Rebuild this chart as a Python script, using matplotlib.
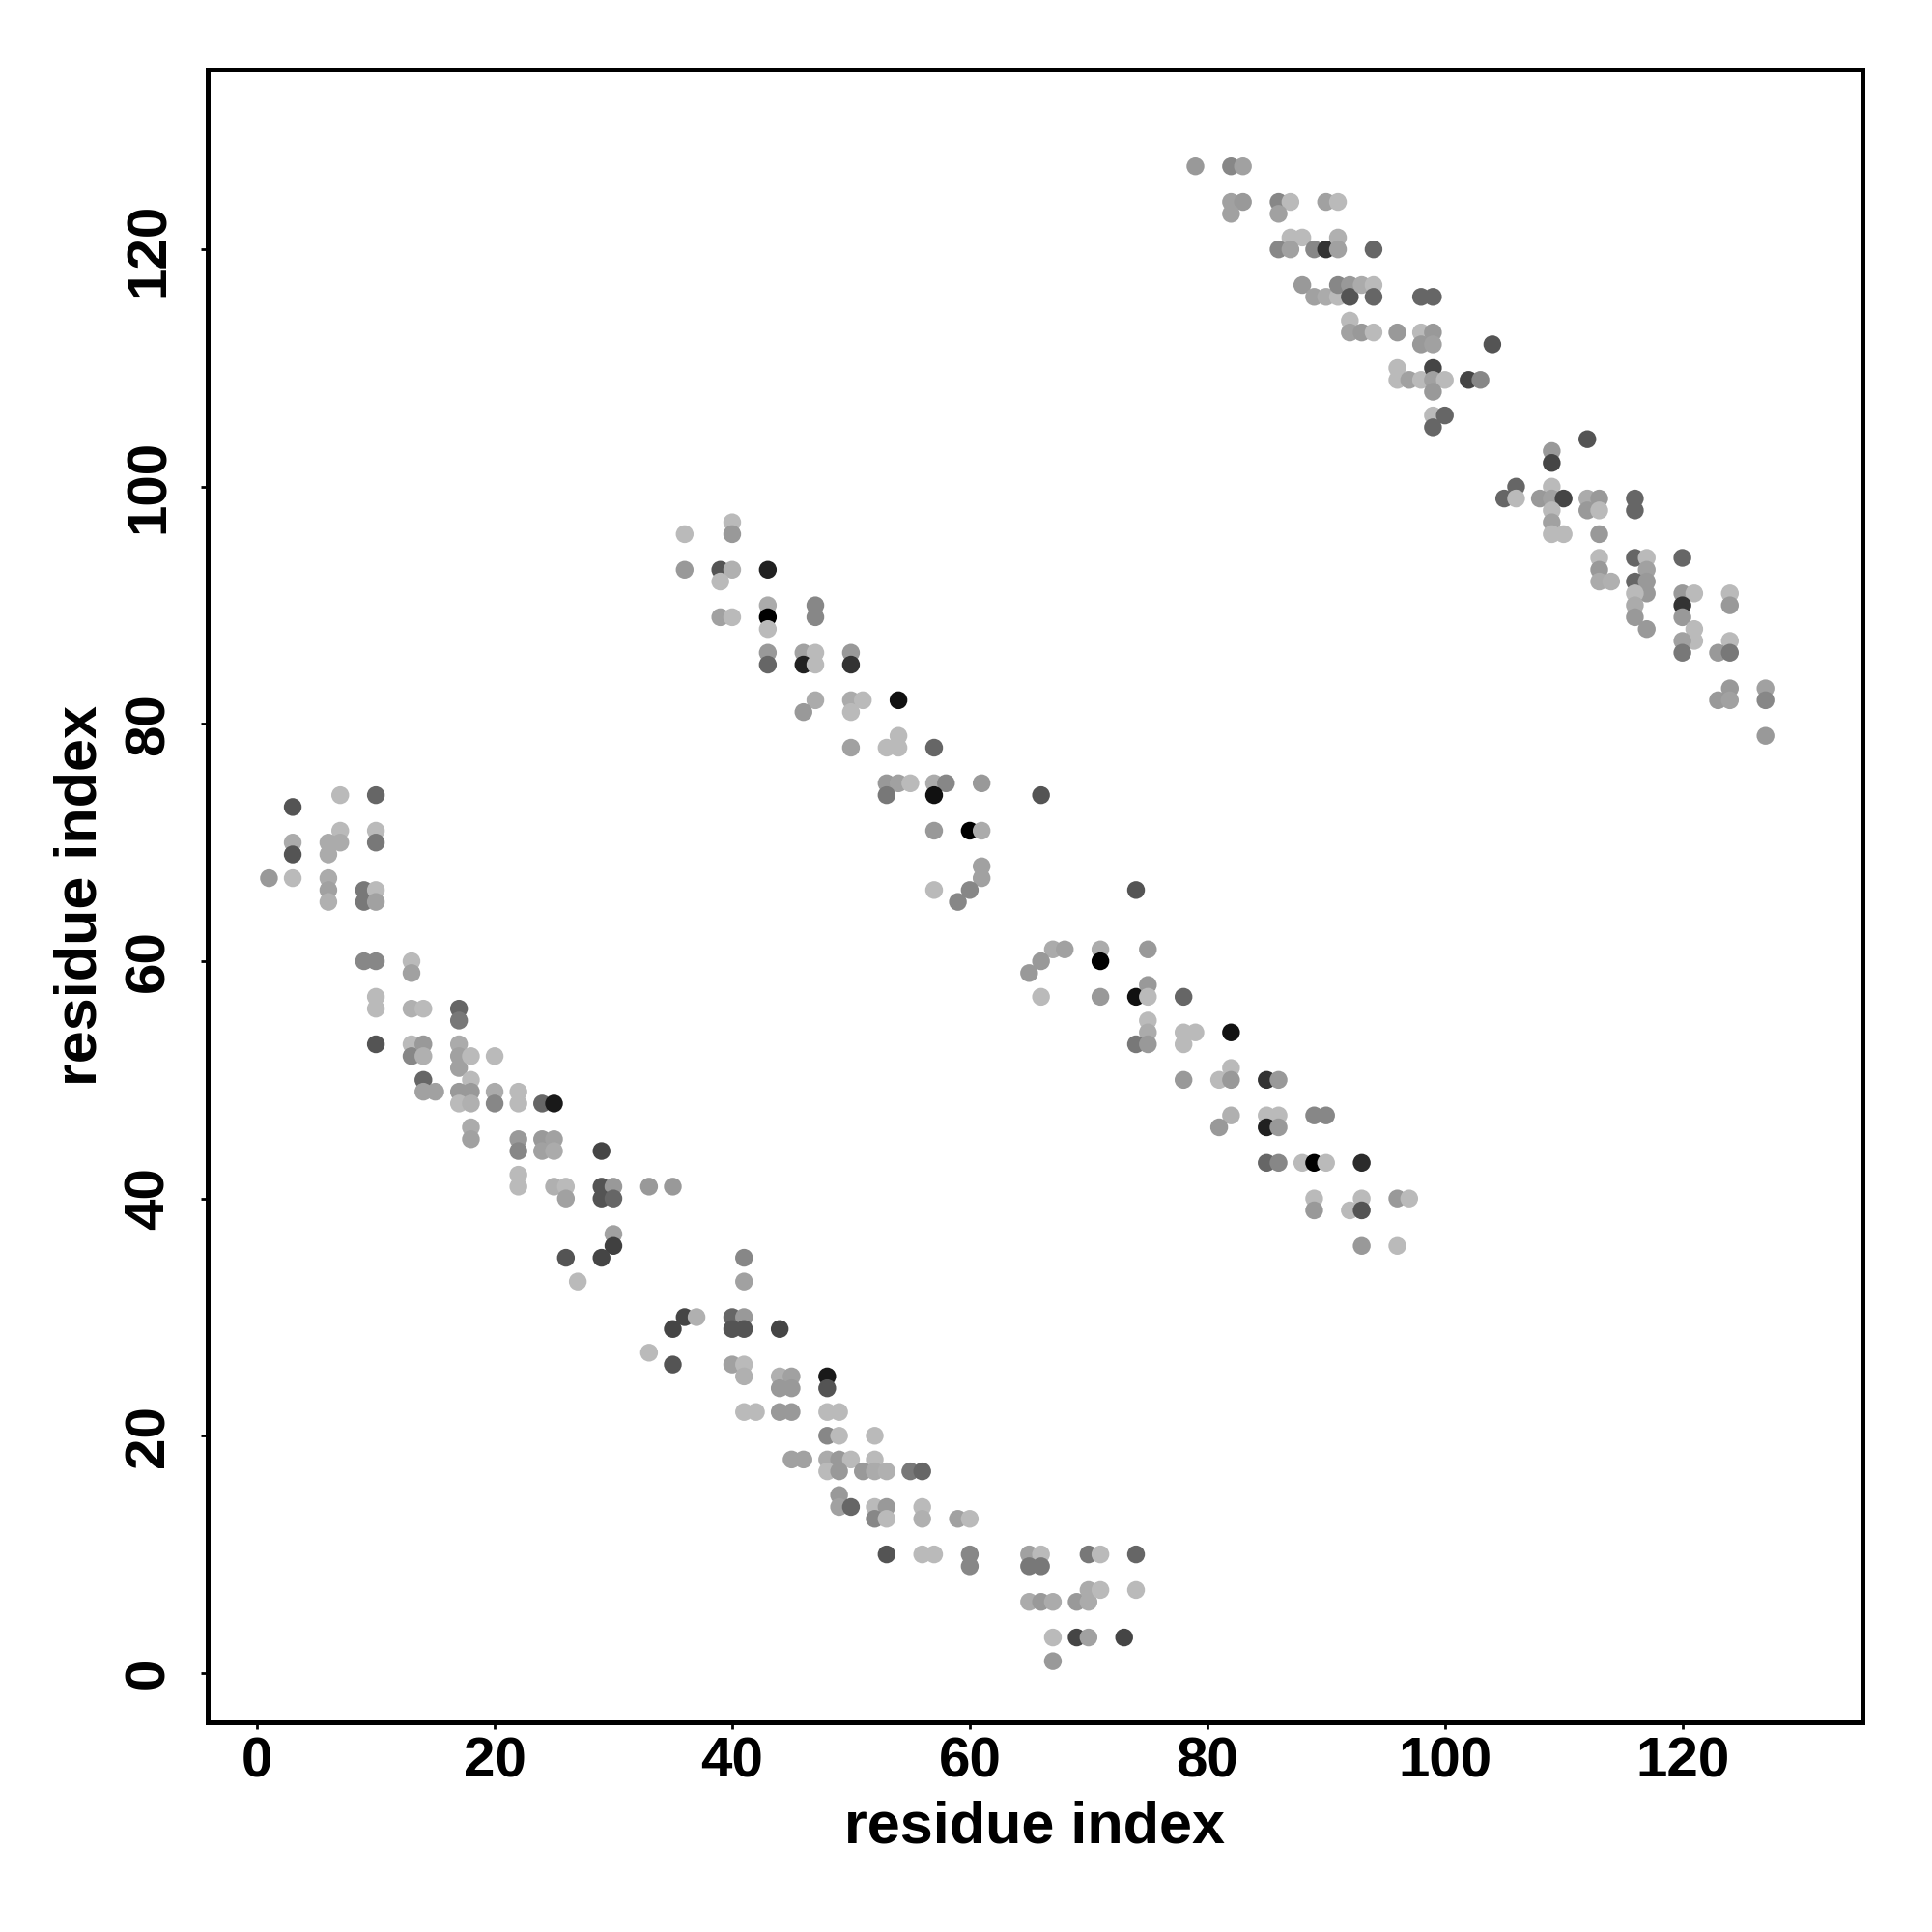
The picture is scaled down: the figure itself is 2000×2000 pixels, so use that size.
import matplotlib
matplotlib.use("Agg")
import matplotlib.pyplot as plt

plt.rcParams['font.family'] = ['Liberation Sans', 'DejaVu Sans']
plt.rcParams['font.weight'] = 'bold'

# residue i, residue j, gray shade (0 = black, 1 = white)
res_i = [
    3, 7, 10, 3, 3, 7, 6, 7, 6, 10, 10, 1, 3, 6, 6, 6, 9, 9, 10, 10,
    9, 10, 13, 13, 10, 10, 13, 14, 17, 17, 10, 13, 13, 14, 14, 17, 17, 17, 18, 20,
    14, 14, 15, 18, 17, 18, 17, 18, 20, 20, 22, 22, 24, 25, 18, 18, 22, 22, 24, 25,
    24, 25, 29, 22, 22, 25, 26, 26, 29, 30, 29, 30, 30, 30, 26, 29, 27, 33, 35,
    41, 41, 36, 37, 35, 33, 35, 40, 41, 40, 41, 44, 40, 41, 41, 44, 45, 44, 45, 48,
    48, 41, 42, 44, 45, 48, 49, 48, 49, 52, 45, 46, 48, 49, 50, 52, 48, 49, 51, 52,
    53, 55, 56, 49, 49, 50, 52, 53, 52, 53, 56, 56, 59, 60, 53, 56, 57, 60, 60, 65,
    66, 65, 66, 70, 71, 74, 65, 66, 67, 69, 70, 70, 71, 74, 67, 69, 70, 73, 67,
    36, 40, 40, 36, 39, 40, 39, 43, 39, 40, 43, 43, 43, 47, 47, 43, 43, 46, 47, 46,
    47, 50, 50, 47, 46, 50, 51, 50, 54, 50, 53, 54, 54, 57, 53, 54, 55, 53, 57, 58,
    57, 61, 57, 60, 61, 61, 61, 60, 59, 57, 66,
    74, 67, 68, 66, 65, 66, 71, 71, 75, 71, 74, 75, 75, 78, 75, 75, 74, 75, 78, 79,
    78, 82, 78, 81, 82, 82, 85, 86, 82, 81, 85, 86, 85, 86, 89, 90, 85, 86, 88, 89,
    90, 93, 89, 89, 92, 93, 93, 96, 97, 93, 96,
    79, 82, 83, 82, 83, 82, 86, 87, 86, 90, 91, 87, 88, 86, 87, 89, 90, 91, 91, 94,
    88, 89, 90, 91, 91, 92, 92, 93, 94, 94, 98, 99, 92, 92, 93, 94, 96, 98, 99, 98,
    99, 104, 96, 96, 97, 98, 99, 99, 100, 99, 102, 103, 99, 100, 99,
    112, 109, 109, 106, 105, 106, 109, 108, 109, 110, 109, 109, 109, 110, 112, 113, 112, 113, 116, 116,
    113, 113, 113, 113, 114, 116, 117, 117, 116, 117, 117, 116, 116, 116, 117, 120, 120, 121, 120, 120,
    121, 121, 120, 120, 124, 124, 124, 123, 124, 124, 123, 124, 127, 127, 127,
]

res_j = [
    73, 74, 74, 70, 69, 71, 70, 70, 69, 71, 70, 67, 67, 67, 66, 65, 66, 65, 66, 65,
    60, 60, 60, 59, 57, 56, 56, 56, 56, 55, 53, 53, 52, 53, 52, 53, 52, 51, 52, 52,
    50, 49, 49, 50, 49, 49, 48, 48, 49, 48, 49, 48, 48, 48, 46, 45, 45, 44, 45, 45,
    44, 44, 44, 42, 41, 41, 41, 40, 41, 41, 40, 40, 37, 36, 35, 35, 33, 41, 41,
    35, 33, 30, 30, 29, 27, 26, 30, 30, 29, 29, 29, 26, 26, 25, 25, 25, 24, 24, 25,
    24, 22, 22, 22, 22, 22, 22, 20, 20, 20, 18, 18, 18, 18, 18, 18, 17, 17, 17, 17,
    17, 17, 17, 15, 14, 14, 14, 14, 13, 13, 14, 13, 13, 13, 10, 10, 10, 10, 9, 10,
    10, 9, 9, 10, 10, 10, 6, 6, 6, 6, 6, 7, 7, 7, 3, 3, 3, 3, 1,
    96, 97, 96, 93, 93, 93, 92, 93, 89, 89, 90, 89, 88, 90, 89, 86, 85, 86, 86, 85,
    85, 86, 85, 82, 81, 82, 82, 81, 82, 78, 78, 78, 79, 78, 75, 75, 75, 74, 75, 75,
    74, 75, 71, 71, 71, 68, 67, 66, 65, 66, 74,
    66, 61, 61, 60, 59, 57, 61, 60, 61, 57, 57, 58, 57, 57, 55, 54, 53, 53, 54, 54,
    53, 54, 50, 50, 51, 50, 50, 50, 47, 46, 47, 47, 46, 46, 47, 47, 43, 43, 43, 43,
    43, 43, 40, 39, 39, 40, 39, 40, 40, 36, 36,
    127, 127, 127, 124, 124, 123, 124, 124, 123, 124, 124, 121, 121, 120, 120, 120, 120, 121, 120, 120,
    117, 116, 116, 116, 117, 117, 116, 117, 117, 116, 116, 116, 114, 113, 113, 113, 113, 113, 113, 112,
    112, 112, 110, 109, 109, 109, 110, 109, 109, 108, 109, 109, 106, 106, 105,
    104, 103, 102, 100, 99, 99, 100, 99, 99, 99, 98, 97, 96, 96, 99, 99, 98, 98, 99, 98,
    96, 94, 93, 92, 92, 94, 94, 93, 92, 92, 91, 91, 90, 89, 88, 94, 91, 91, 90, 89,
    88, 87, 87, 86, 91, 90, 87, 86, 86, 83, 82, 82, 83, 82, 79,
]

shade = [
    .33, .73, .40, .67, .33, .73, .67, .67, .67, .73, .47, .60, .73, .67, .63, .69, .47, .47, .73, .63,
    .53, .53, .73, .63, .73, .73, .69, .73, .40, .47, .33, .73, .53, .60, .69, .67, .63, .63, .73, .73,
    .40, .63, .63, .73, .60, .60, .73, .69, .67, .53, .73, .73, .40, .10, .67, .63, .60, .53, .60, .63,
    .63, .67, .27, .73, .73, .69, .73, .63, .33, .60, .33, .40, .63, .25, .33, .27, .73, .60, .60,
    .53, .63, .27, .69, .27, .73, .33, .40, .60, .33, .33, .27, .63, .73, .69, .69, .63, .60, .60, .10,
    .33, .73, .73, .60, .60, .73, .73, .53, .73, .73, .63, .63, .67, .60, .73, .73, .73, .60, .60, .67,
    .69, .47, .40, .60, .63, .40, .73, .60, .53, .73, .73, .69, .63, .73, .33, .73, .73, .53, .53, .63,
    .73, .47, .47, .47, .73, .40, .67, .60, .67, .60, .67, .67, .73, .73, .73, .27, .63, .27, .60,
    .73, .73, .60, .60, .33, .69, .73, .13, .63, .73, .67, 0.0, .73, .53, .53, .60, .40, .63, .73, .13,
    .73, .60, .20, .67, .60, .67, .73, .73, .07, .63, .73, .73, .73, .40, .60, .63, .73, .47, .67, .53,
    .07, .60, .60, 0.0, .67, .63, .63, .53, .53, .73, .33,
    .33, .67, .63, .60, .60, .73, .67, 0.0, .60, .60, .07, .60, .73, .40, .73, .67, .47, .60, .73, .73,
    .73, .07, .60, .73, .73, .60, .20, .60, .69, .60, .73, .73, .13, .60, .53, .53, .40, .53, .73, 0.0,
    .73, .17, .73, .60, .73, .73, .33, .60, .73, .60, .73,
    .60, .53, .63, .63, .60, .63, .53, .73, .63, .63, .73, .73, .73, .53, .63, .53, .20, .69, .63, .40,
    .60, .63, .67, .73, .53, .60, .33, .67, .73, .40, .40, .40, .73, .63, .60, .73, .60, .73, .60, .60,
    .63, .33, .73, .73, .63, .73, .27, .63, .73, .60, .27, .53, .73, .40, .40,
    .33, .60, .27, .40, .40, .73, .73, .60, .63, .27, .73, .63, .73, .73, .67, .60, .60, .73, .40, .40,
    .60, .73, .60, .67, .69, .40, .73, .63, .40, .60, .60, .73, .67, .60, .60, .40, .60, .73, .20, .60,
    .73, .73, .63, .47, .73, .60, .73, .60, .47, .60, .60, .63, .63, .53, .60,
]

ticks = [0, 20, 40, 60, 80, 100, 120]
axis_label = "residue index"

fig = plt.figure(figsize=(10, 10), dpi=200)
ax = fig.add_axes([0.1075, 0.1085, 0.8565, 0.8555])

ax.scatter(res_i, res_j, c=shade, cmap='gray', vmin=0, vmax=1,
           s=44, linewidths=0, zorder=3)

ax.set_xlim(-4.16, 135.16)
ax.set_ylim(-4.16, 135.16)
ax.set_xticks(ticks)
ax.set_yticks(ticks)
ax.set_xticklabels([str(t) for t in ticks], fontsize=21, fontweight='bold')
ax.set_yticklabels([str(t) for t in ticks], fontsize=21, fontweight='bold',
                   rotation=90, va='center', ha='right')
ax.tick_params(axis='both', length=2.6, width=1.0, color='black')
ax.tick_params(axis='x', pad=2.5)
ax.tick_params(axis='y', pad=9.5)
for sp in ax.spines.values():
    sp.set_linewidth(1.8)
    sp.set_color('black')

fig.text(0.5357, 1 - 1892 / 2000, axis_label, ha='center', va='center',
         fontsize=22, fontweight='bold')
fig.text(84 / 2000, 1 - 927 / 2000, axis_label, ha='center', va='center',
         rotation=90, fontsize=22, fontweight='bold')

fig.savefig("out.png", dpi=200, facecolor='white')
